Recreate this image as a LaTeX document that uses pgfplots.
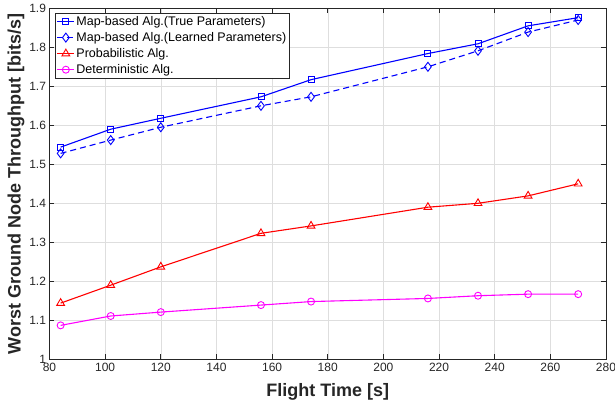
\documentclass[border=0pt]{standalone}
\usepackage{pgfplots}
\pgfplotsset{compat=1.18}
\usepackage{fontspec}
\setmainfont{Liberation Sans}
\definecolor{axgray}{gray}{0.15}
\definecolor{gridgray}{gray}{0.87}
\definecolor{mblue}{rgb}{0,0,1}
\definecolor{mred}{rgb}{1,0,0}
\definecolor{mmag}{rgb}{1,0,1}
\begin{document}
\begin{tikzpicture}
\begin{axis}[
  name=ax,
  scale only axis,
  width=556.5bp, height=351bp,
  xmin=80, xmax=280, ymin=1, ymax=1.9,
  xtick={80,100,...,280},
  ytick={1,1.1,1.2,1.3,1.4,1.5,1.6,1.7,1.8,1.9},
  yticklabels={1,1.1,1.2,1.3,1.4,1.5,1.6,1.7,1.8,1.9},
  /pgf/number format/assume math mode=true,
  tick align=inside,
  tick pos=both,
  major tick length=5bp,
  grid=major,
  major grid style={draw=gridgray, line width=0.5bp},
  axis line style={draw=axgray, line width=0.6bp},
  every tick/.style={draw=axgray, line width=0.6bp},
  tick label style={font=\fontsize{12bp}{14bp}\selectfont, text=axgray},
  xlabel={Flight Time [s]},
  ylabel={Worst Ground Node Throughput [bits/s]},
  label style={font=\fontsize{18bp}{21bp}\selectfont\bfseries, text=axgray},
  xlabel style={at={(axis description cs:0.5,0)}, anchor=center, yshift=-33bp},
  ylabel style={at={(axis description cs:0,0.5)}, anchor=center, yshift=33.5bp},
  legend style={at={(axis description cs:0.01,0.9866)}, anchor=north west,
    draw=axgray, line width=0.5bp, fill=white,
    font=\fontsize{12.5bp}{15bp}\selectfont,
    inner sep=1.5bp, row sep=2.5bp,
    nodes={inner sep=1.5bp}},
  legend cell align=left,
  every axis plot/.append style={line width=1.1bp},
]
\addplot[mblue, mark=square, mark size=3bp, mark options={solid, line width=0.9bp}] coordinates {
(84,1.544) (102,1.590) (120,1.618) (156,1.673) (174,1.717) (216,1.784) (234,1.809) (252,1.855) (270,1.876)};
\addlegendentry{Map-based Alg.(True Parameters)}
\addplot[mblue, dashed, dash pattern=on 6bp off 4bp, mark=diamond, mark size=4.5bp, mark options={solid, line width=0.9bp}] coordinates {
(84,1.528) (102,1.562) (120,1.595) (156,1.650) (174,1.673) (216,1.750) (234,1.791) (252,1.839) (270,1.870)};
\addlegendentry{Map-based Alg.(Learned Parameters)}
\addplot[mred, mark=triangle, mark size=4.5bp, mark options={solid, line width=0.9bp}] coordinates {
(84,1.144) (102,1.190) (120,1.237) (156,1.323) (174,1.342) (216,1.390) (234,1.400) (252,1.419) (270,1.450)};
\addlegendentry{Probabilistic Alg.}
\addplot[mmag, mark=o, mark size=3.5bp, mark options={solid, line width=0.9bp}] coordinates {
(84,1.087) (102,1.111) (120,1.121) (156,1.139) (174,1.148) (216,1.156) (234,1.163) (252,1.167) (270,1.167)};
\addlegendentry{Deterministic Alg.}
\end{axis}
\pgfresetboundingbox
\useasboundingbox ([xshift=-49.5bp, yshift=-45.7bp]ax.south west) rectangle ([xshift=9bp, yshift=8.3bp]ax.north east);
\end{tikzpicture}
\end{document}
